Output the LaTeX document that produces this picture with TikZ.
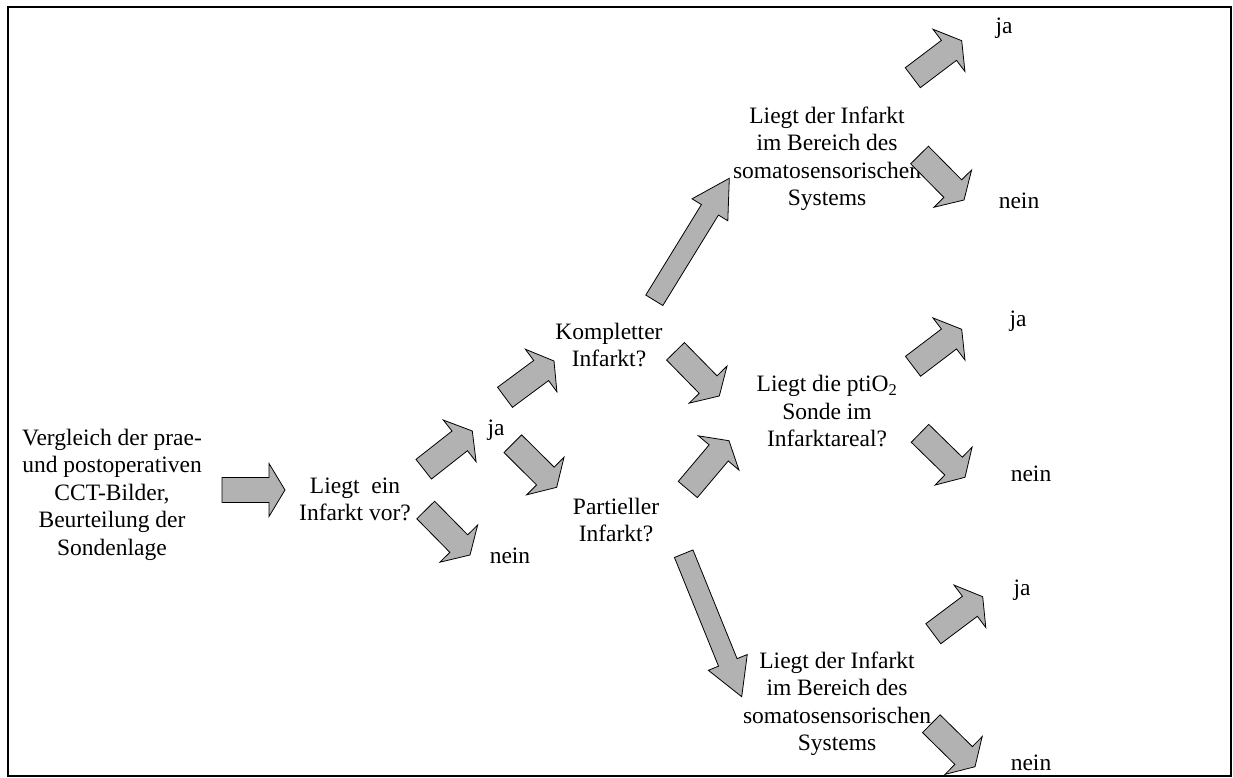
\documentclass[tikz,border=0pt]{standalone}
\usepackage{fontspec}
\setmainfont{Liberation Serif}
\usetikzlibrary{calc}
\definecolor{arrgray}{RGB}{178,178,178}
% block arrow: #1 tail, #2 tip, #3 shaft half width, #4 head half width, #5 head length
\newcommand{\blockarrow}[5]{%
  \coordinate (bb) at ($(#2)!#5!(#1)$);
  \draw[blk] ($(#1)!#3!90:(#2)$) -- ($(bb)!#3!90:(#2)$) -- ($(bb)!#4!90:(#2)$) -- (#2)
    -- ($(bb)!#4!-90:(#2)$) -- ($(bb)!#3!-90:(#2)$) -- ($(#1)!#3!-90:(#2)$) -- cycle;
}
\newcommand{\smallarrow}[2]{\blockarrow{#1}{#2}{12.5pt}{26.5pt}{16pt}}
\newcommand{\bigarrow}[2]{\blockarrow{#1}{#2}{10pt}{21pt}{37pt}}
\begin{document}
\begin{tikzpicture}[x=1pt,y=-1pt,
  lbl/.style={inner sep=0pt, align=center, anchor=base, font=\fontsize{23.5}{27.5}\selectfont},
  blk/.style={draw=black, line width=0.8pt, fill=arrgray, line join=miter}]
\useasboundingbox (0,0) rectangle (1233,778);
\draw[line width=2pt] (8,7) rectangle (1231,776);

% texts (y = baseline of the last line)
\node[lbl] (start) at (112,555) {Vergleich der prae-\\und postoperativen\\CCT-Bilder,\\Beurteilung der\\Sondenlage};
\node[lbl] (q1) at (355,520.7) {Liegt~ ein\\Infarkt vor?};
\node[lbl] (ja1) at (496,435) {ja};
\node[lbl] (nein1) at (510,563.3) {nein};
\node[lbl] (komp) at (609,366.7) {Kompletter\\Infarkt?};
\node[lbl] (part) at (616,541.7) {Partieller\\Infarkt?};
\node[lbl] (qtop) at (827,205.7) {Liegt der Infarkt\\im Bereich des\\somatosensorischen\\Systems};
\node[lbl] (jatop) at (1004,33.3) {ja};
\node[lbl] (neintop) at (1019,208.3) {nein};
\node[lbl] (qpti) at (827,446.7) {Liegt die ptiO\textsubscript{2}\\Sonde im\\Infarktareal?};
\node[lbl] (jamid) at (1018,326.7) {ja};
\node[lbl] (neinmid) at (1031,481.7) {nein};
\node[lbl] (qbot) at (837,750.7) {Liegt der Infarkt\\im Bereich des\\somatosensorischen\\Systems};
\node[lbl] (jabot) at (1022,595) {ja};
\node[lbl] (neinbot) at (1031,770) {nein};

% arrow end points
\coordinate (aT) at (222,490);     \coordinate (aH) at (285,490);
\coordinate (bT) at (423.7,469.2); \coordinate (bH) at (472.3,431);
\coordinate (cT) at (425.7,510);   \coordinate (cH) at (470,555);
\coordinate (dT) at (512.8,443.7); \coordinate (dH) at (556.7,487.3);
\coordinate (eT) at (505,397.3);   \coordinate (eH) at (554,361);
\coordinate (fT) at (654.3,300.3); \coordinate (fH) at (729.3,178.3);
\coordinate (gT) at (912.8,77.7);  \coordinate (gH) at (961.7,40.7);
\coordinate (hT) at (919.5,155);   \coordinate (hH) at (964,200);
\coordinate (iT) at (675.5,351.3); \coordinate (iH) at (719.3,396);
\coordinate (jT) at (687.8,489.5); \coordinate (jH) at (729,440.7);
\coordinate (kT) at (913,366.3);   \coordinate (kH) at (961.7,329.3);
\coordinate (lT) at (920,433.3);   \coordinate (lH) at (965,477.3);
\coordinate (mT) at (683.7,553.7); \coordinate (mH) at (741.7,696.7);
\coordinate (nT) at (933.3,633.7); \coordinate (nH) at (982.7,596.7);
\coordinate (oT) at (931.3,723.7); \coordinate (oH) at (975,766.7);

\smallarrow{aT}{aH}
\smallarrow{bT}{bH}
\smallarrow{cT}{cH}
\smallarrow{dT}{dH}
\smallarrow{eT}{eH}
\bigarrow{fT}{fH}
\smallarrow{gT}{gH}
\smallarrow{hT}{hH}
\smallarrow{iT}{iH}
\smallarrow{jT}{jH}
\smallarrow{kT}{kH}
\smallarrow{lT}{lH}
\bigarrow{mT}{mH}
\smallarrow{nT}{nH}
\smallarrow{oT}{oH}
\end{tikzpicture}
\end{document}
